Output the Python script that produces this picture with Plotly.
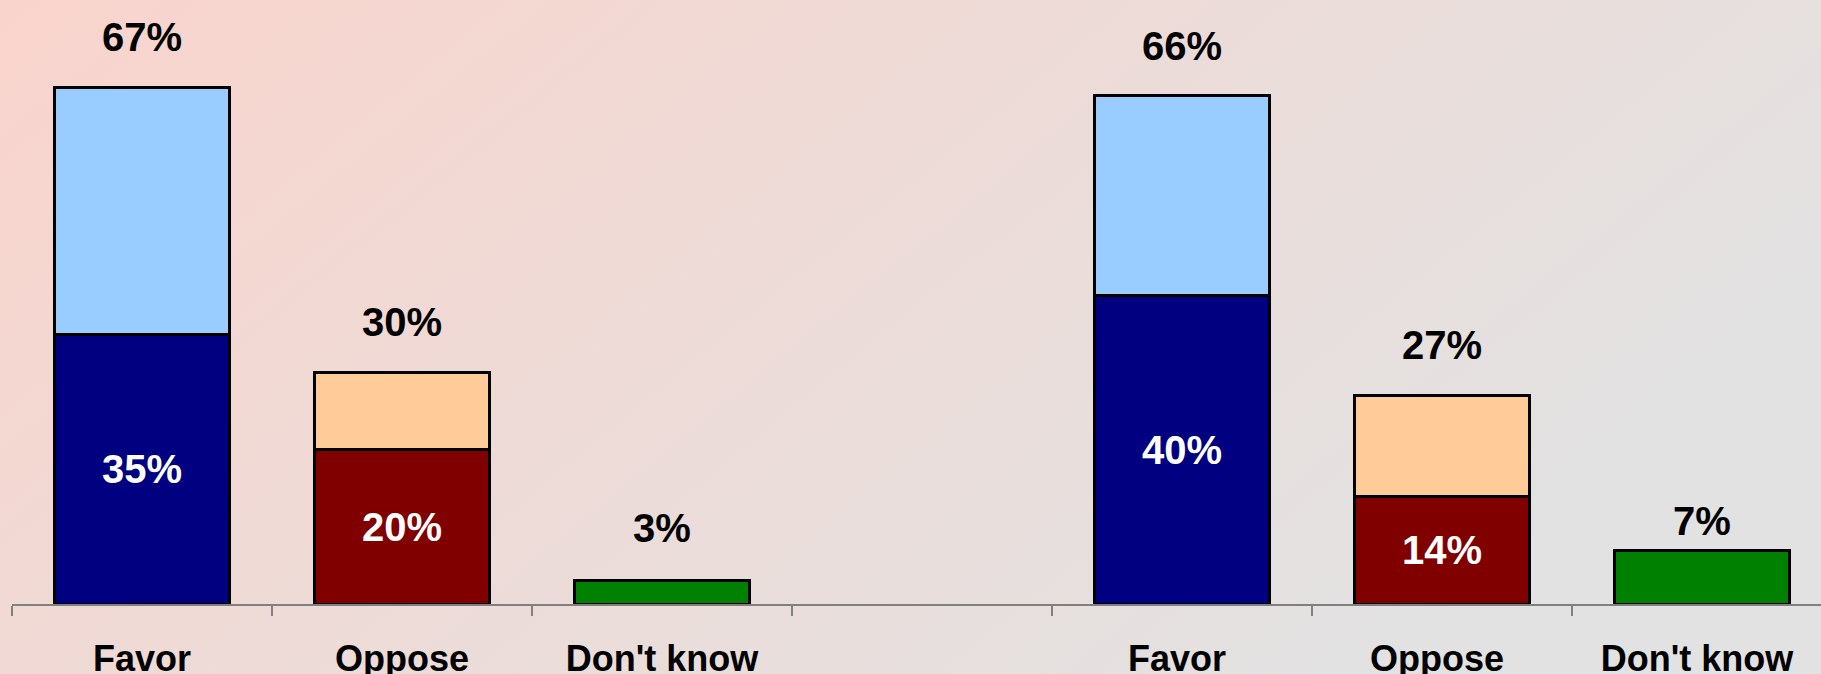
import base64
import plotly.graph_objects as go

# ---- data ----
categories = ["Favor", "Oppose", "Don't know", " ", "Favor ", "Oppose ", "Don't know "]
strongly = [35, 20, None, None, 40, 14, None]
not_strongly = [32, 10, None, None, 26, 13, None]
dont_know = [None, None, 3, None, None, None, 7]
totals = [67, 30, 3, None, 66, 27, 7]

# ---- style ----
strong_colors = ["#000080", "#800000", "#000080", "#000080", "#000080", "#800000", "#000080"]
light_colors = ["#99CCFF", "#FFCC99", "#99CCFF", "#99CCFF", "#99CCFF", "#FFCC99", "#99CCFF"]
green = "#008000"
label_lift = [51, 51, 53, 0, 50, 51, 29]
FONT = "Liberation Sans, Arial, sans-serif"

W, H = 1821, 674
ML, MR, MT, MB = 12, 0, 0, 70

outline = dict(color="black", width=3)

fig = go.Figure()
fig.add_trace(go.Bar(
    x=categories, y=strongly, marker=dict(color=strong_colors, line=outline),
    width=0.67, texttemplate="%{y}%", textposition="inside", insidetextanchor="middle",
    textangle=0, constraintext="none",
    textfont=dict(family=FONT, size=40, color="white", weight="bold"),
    hoverinfo="skip", showlegend=False,
))
fig.add_trace(go.Bar(
    x=categories, y=not_strongly, marker=dict(color=light_colors, line=outline),
    width=0.67, hoverinfo="skip", showlegend=False,
))
fig.add_trace(go.Bar(
    x=categories, y=dont_know, marker=dict(color=green, line=outline),
    width=0.67, hoverinfo="skip", showlegend=False,
))

for cat, tot, lift in zip(categories, totals, label_lift):
    if tot is None:
        continue
    fig.add_annotation(
        x=cat, y=tot, text=f"{tot}%", showarrow=False, yanchor="middle", yshift=lift,
        font=dict(family=FONT, size=40, color="black", weight="bold"),
    )

svg = (
    f'<svg xmlns="http://www.w3.org/2000/svg" width="{W}" height="{H}" '
    f'viewBox="0 0 {W} {H}" preserveAspectRatio="none">'
    '<defs><linearGradient id="g" x1="0" y1="0" x2="1" y2="0.45">'
    '<stop offset="0" stop-color="#F9D4CC"/>'
    '<stop offset="1" stop-color="#E2E2E2"/>'
    '</linearGradient></defs>'
    f'<rect x="0" y="0" width="{W}" height="{H}" fill="url(#g)"/></svg>'
)
src = "data:image/svg+xml;base64," + base64.b64encode(svg.encode()).decode()

pw, ph = W - ML - MR, H - MT - MB
fig.update_layout(
    width=W, height=H,
    margin=dict(l=ML, r=MR, t=MT, b=MB, pad=0, autoexpand=False),
    barmode="stack",
    paper_bgcolor="#EEDDDA",
    plot_bgcolor="rgba(0,0,0,0)",
    images=[dict(
        source=src, xref="paper", yref="paper",
        x=-ML / pw, y=1 + MT / ph, sizex=W / pw, sizey=H / ph,
        xanchor="left", yanchor="top", sizing="stretch", layer="below",
    )],
    xaxis=dict(
        type="category", range=[-0.5, 6.458], automargin=False,
        tickson="boundaries", ticks="outside", ticklen=10, tickwidth=1.5,
        tickcolor="#808080", showline=True, linecolor="#808080", linewidth=1.5,
        showgrid=False, zeroline=False,
        tickfont=dict(family=FONT, size=36, color="black", weight="bold"),
        ticklabelstandoff=22,
    ),
    yaxis=dict(range=[0, 78.4], visible=False, showgrid=False, zeroline=False,
               automargin=False),
)

fig.write_html(
    "out.html",
    config={"displayModeBar": False},
    post_script="document.body.style.margin='0';document.body.style.overflow='hidden';",
)
